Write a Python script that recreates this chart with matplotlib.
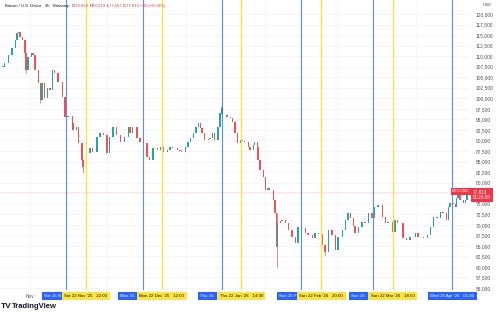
import numpy as np
import pandas as pd
import matplotlib
matplotlib.use("Agg")
import matplotlib.pyplot as plt
import matplotlib.dates as mdates
import matplotlib.transforms as mtransforms
from matplotlib.patches import Rectangle

plt.rcParams['font.family'] = ['Liberation Sans', 'DejaVu Sans']

# Cierres (BTC/USD, velas de 3h, una lectura cada ~1 dia)
fechas = [
    '2025-10-21 12:00', '2025-10-22 00:00', '2025-10-23 12:00', '2025-10-25 00:00', '2025-10-26 06:00',
    '2025-10-27 00:00', '2025-10-27 12:00', '2025-10-28 03:00', '2025-10-29 00:00', '2025-10-30 03:00',
    '2025-10-30 12:00', '2025-10-31 06:00', '2025-11-01 18:00', '2025-11-02 06:00', '2025-11-03 00:00',
    '2025-11-04 06:00', '2025-11-05 00:00', '2025-11-05 18:00', '2025-11-06 21:00', '2025-11-07 18:00',
    '2025-11-08 21:00', '2025-11-10 00:00', '2025-11-10 18:00', '2025-11-12 00:00', '2025-11-13 15:00',
    '2025-11-14 18:00', '2025-11-15 21:00', '2025-11-17 12:00', '2025-11-17 21:00', '2025-11-19 09:00',
    '2025-11-19 21:00', '2025-11-21 09:00', '2025-11-21 18:00', '2025-11-23 06:00', '2025-11-24 12:00',
    '2025-11-25 15:00', '2025-11-27 06:00', '2025-11-28 09:00', '2025-11-29 15:00', '2025-12-01 03:00',
    '2025-12-02 06:00', '2025-12-03 12:00', '2025-12-05 00:00', '2025-12-06 06:00', '2025-12-08 03:00',
    '2025-12-09 09:00', '2025-12-10 03:00', '2025-12-11 06:00', '2025-12-12 21:00', '2025-12-14 00:00',
    '2025-12-15 06:00', '2025-12-16 18:00', '2025-12-17 21:00', '2025-12-19 03:00', '2025-12-20 18:00',
    '2025-12-21 21:00', '2025-12-23 00:00', '2025-12-24 15:00', '2025-12-25 18:00', '2025-12-26 21:00',
    '2025-12-28 12:00', '2025-12-29 15:00', '2025-12-30 09:00', '2025-12-31 15:00', '2026-01-01 18:00',
    '2026-01-02 15:00', '2026-01-03 18:00', '2026-01-04 21:00', '2026-01-05 18:00', '2026-01-06 12:00',
    '2026-01-07 06:00', '2026-01-08 09:00', '2026-01-09 15:00', '2026-01-10 09:00', '2026-01-11 12:00',
    '2026-01-12 06:00', '2026-01-13 12:00', '2026-01-14 06:00', '2026-01-14 18:00', '2026-01-15 09:00',
    '2026-01-17 00:00', '2026-01-18 06:00', '2026-01-19 00:00', '2026-01-20 03:00', '2026-01-21 06:00',
    '2026-01-22 03:00', '2026-01-22 21:00', '2026-01-24 00:00', '2026-01-25 06:00', '2026-01-26 00:00',
    '2026-01-27 06:00', '2026-01-27 21:00', '2026-01-28 18:00', '2026-01-29 03:00', '2026-01-29 21:00',
    '2026-01-31 03:00', '2026-01-31 21:00', '2026-02-02 00:00', '2026-02-02 18:00', '2026-02-04 00:00',
    '2026-02-04 18:00', '2026-02-05 12:00', '2026-02-05 21:00', '2026-02-06 18:00', '2026-02-07 12:00',
    '2026-02-08 18:00', '2026-02-09 21:00', '2026-02-11 09:00', '2026-02-12 15:00', '2026-02-13 18:00',
    '2026-02-15 06:00', '2026-02-16 12:00', '2026-02-17 15:00', '2026-02-19 06:00', '2026-02-20 09:00',
    '2026-02-21 15:00', '2026-02-23 03:00', '2026-02-24 06:00', '2026-02-25 12:00', '2026-02-27 00:00',
    '2026-02-28 06:00', '2026-03-01 09:00', '2026-03-03 00:00', '2026-03-04 03:00', '2026-03-05 06:00',
    '2026-03-06 03:00', '2026-03-07 06:00', '2026-03-08 00:00', '2026-03-09 06:00', '2026-03-10 18:00',
    '2026-03-11 21:00', '2026-03-13 03:00', '2026-03-14 15:00', '2026-03-15 18:00', '2026-03-17 00:00',
    '2026-03-18 15:00', '2026-03-19 18:00', '2026-03-20 21:00', '2026-03-22 12:00', '2026-03-23 15:00',
    '2026-03-24 18:00', '2026-03-26 18:00', '2026-03-28 06:00', '2026-03-29 12:00', '2026-03-31 12:00',
    '2026-04-01 15:00', '2026-04-03 15:00', '2026-04-05 06:00', '2026-04-06 09:00', '2026-04-07 12:00',
    '2026-04-09 00:00', '2026-04-10 06:00', '2026-04-11 09:00', '2026-04-12 15:00', '2026-04-13 09:00',
    '2026-04-14 03:00', '2026-04-15 06:00', '2026-04-16 03:00', '2026-04-16 18:00', '2026-04-17 06:00',
    '2026-04-18 00:00', '2026-04-19 06:00', '2026-04-20 00:00', '2026-04-20 18:00',
]
cierres = [
    107430, 108380, 110280, 111940, 113830,
    115490, 115730, 114540, 113830, 110750,
    106720, 109800, 110750, 110280, 106720,
    103630, 99600, 103630, 100080, 102450,
    101970, 106720, 106000, 103870, 100310,
    95570, 95800, 94150, 92480, 93200,
    89400, 85370, 83710, 87030, 88210,
    87270, 90820, 91770, 91300, 87030,
    90820, 93200, 91300, 89640, 90820,
    93200, 91770, 93200, 90590, 89640,
    89400, 86080, 85370, 88210, 87740,
    88450, 87270, 87740, 88450, 88210,
    87740, 87500, 87270, 88450, 89640,
    90590, 91770, 93200, 94150, 92960,
    91770, 90110, 90350, 90590, 91770,
    90110, 93200, 96520, 97700, 96040,
    95570, 95330, 94380, 91770, 89400,
    90110, 89880, 89640, 88450, 87740,
    88930, 89640, 88450, 85370, 83000,
    81340, 78250, 78730, 78250, 75880,
    72800, 64730, 70430, 70900, 71140,
    70430, 68760, 67100, 65680, 69480,
    69200, 68050, 67580, 66870, 68050,
    67900, 65210, 63550, 68760, 67580,
    64020, 67100, 68760, 71140, 72800,
    71610, 69710, 68050, 69480, 70660,
    70430, 72800, 71610, 74220, 74700,
    71850, 70430, 70700, 68290, 71140,
    70430, 66870, 66390, 67100, 68050,
    67100, 66870, 67580, 69480, 71850,
    71500, 73030, 72800, 71140, 74220,
    75170, 74900, 74220, 76360, 77540,
    75880, 75170, 75880, 77813,
]

# mechas largas que se ven en el grafico
fechas_mecha = ['2025-10-30 12:00', '2025-11-05 00:00', '2025-11-21 18:00', '2026-01-14 18:00', '2026-02-05 12:00', '2026-02-24 06:00']
mechas_min = [105900, 98900, 82300, 96300, 59990, 62800]
mechas_max = [110750, 103630, 85400, 98200, 72800, 65210]

lineas_azules = ['2025-11-15 01:00', '2025-12-15 01:00', '2026-01-15 01:00', '2026-02-15 01:00', '2026-03-15 01:00', '2026-04-15 01:00']
etiquetas_azules = ["Sat 15 Nov '25   01:00", "Mon 15 Dec '25   01:00", "Thu 15 Jan '26   01:00",
                    "Sun 15 Feb '26   01:00", "Sun 15 Mar '26   01:00", "Wed 15 Apr '26   01:00"]
lineas_amarillas = ['2025-11-22 22:00', '2025-12-22 12:00', '2026-01-22 14:00', '2026-02-22 20:00', '2026-03-22 18:00']
etiquetas_amarillas = ["Sat 22 Nov '25   22:00", "Mon 22 Dec '25   12:00", "Thu 22 Jan '26   14:00",
                       "Sun 22 Feb '26   20:00", "Sun 22 Mar '26   18:00"]

meses = ['2025-11-01', '2025-12-01', '2026-01-01', '2026-02-01', '2026-03-01', '2026-04-01']
# solo "Nov" queda a la vista, las demas las tapan las etiquetas de fecha
etiquetas_meses = ['Nov', '', '', '', '', '']
ticks_precio = list(range(55000, 120001, 2500))

ULTIMO = 77813
ENCABEZADO = [('Bitcoin / U.S. Dollar · 3h · Bitstamp  ', '#131722'),
              ('O', '#131722'), ('78,019 ', '#f23645'),
              ('H', '#131722'), ('78,219 ', '#f23645'),
              ('L', '#131722'), ('77,567 ', '#f23645'),
              ('C', '#131722'), ('77,813 ', '#f23645'),
              ('−35 (−0.04%)', '#f23645')]

VERDE = '#26a69a'
ROJO = '#ef5350'
AZUL = '#2962ff'
AMARILLO = '#fbe343'
GRIS = '#50535e'

W, H = 500, 312
fig = plt.figure(figsize=(W / 100, H / 100), dpi=100)
fig.patch.set_facecolor('white')
ax = fig.add_axes([0, 1 - 290 / H, 470 / W, 290 / H])

x = mdates.date2num(pd.to_datetime(fechas))
c = np.array(cierres, dtype=float)
o = np.r_[c[0], c[:-1]]
colores = np.where(c >= o, VERDE, ROJO)

# mechas
xm = mdates.date2num(pd.to_datetime(fechas_mecha))
for xi, lo, hi in zip(xm, mechas_min, mechas_max):
    k = np.argmin(np.abs(x - xi))
    ax.vlines(x[k], lo, hi, color=colores[k], lw=0.5, zorder=2)

# cuerpos
base = np.minimum(o, c)
alto = np.maximum(np.abs(c - o), 150)
ax.bar(x, alto, bottom=base, width=0.45, color=colores, lw=0, zorder=3)

# lineas verticales de fechas
for f in lineas_azules:
    ax.axvline(mdates.date2num(pd.Timestamp(f)), color=AZUL, alpha=0.75, lw=0.8, zorder=4)
for f in lineas_amarillas:
    ax.axvline(mdates.date2num(pd.Timestamp(f)), color=AMARILLO, lw=1.0, zorder=4)

# precio actual
ax.axhline(ULTIMO, color=ROJO, alpha=0.35, lw=0.6, ls=(0, (1, 1)), zorder=1)

ax.set_xlim(pd.Timestamp('2025-10-20 08:00'), pd.Timestamp('2026-04-21 22:00'))
ax.set_ylim(54533, 123320)

for s in ax.spines.values():
    s.set_visible(False)
ax.yaxis.tick_right()
ax.set_yticks(ticks_precio)
# 77,500 queda bajo la etiqueta del precio actual
ax.set_yticklabels(['' if t == 77500 else f'{t:,}' for t in ticks_precio])
ax.tick_params(axis='y', length=0, pad=4.3, labelsize=3.5, labelcolor=GRIS)
ax.set_xticks(mdates.date2num(pd.to_datetime(meses)))
ax.set_xticklabels(etiquetas_meses)
ax.tick_params(axis='x', length=0, pad=3.2, labelsize=3.4, labelcolor=GRIS)
ax.grid(color='#f0f3fa', lw=0.5, zorder=0)
ax.set_axisbelow(True)

renderer = fig.canvas.get_renderer()

# etiquetas del eje de tiempo: amarillas encima, las azules se ven solo hasta donde empieza la amarilla
FS_EJE = 3.2
PAD = 0.55 * FS_EJE * 100 / 72  # relleno de la caja en pixeles
trans = mtransforms.blended_transform_factory(ax.transData, fig.transFigure)
y_eje = 1 - 296 / H
amarillas = []
for f, t in zip(lineas_amarillas, etiquetas_amarillas):
    ta = ax.text(mdates.date2num(pd.Timestamp(f)), y_eje, t, transform=trans, ha='center', va='center',
                 fontsize=FS_EJE, color='#131722', clip_on=False, zorder=7,
                 bbox=dict(boxstyle='square,pad=0.55', fc=AMARILLO, ec='none'))
    amarillas.append(ta)
fig.canvas.draw()
cajas = [ta.get_bbox_patch().get_window_extent(renderer) for ta in amarillas]
y0, y1 = cajas[0].y0, cajas[0].y1

for i, (f, t) in enumerate(zip(lineas_azules, etiquetas_azules)):
    xl = ax.transData.transform((mdates.date2num(pd.Timestamp(f)), 0))[0]
    tb = fig.text(0, y_eje, t, ha='left', va='center', fontsize=FS_EJE, color='white', zorder=6)
    ancho = tb.get_window_extent(renderer).width + 2 * PAD
    izq = xl - ancho / 2
    der = xl + ancho / 2
    if i < len(cajas):
        der = min(der, cajas[i].x0)
        n = len(t)
        while n > 1 and izq + PAD + tb.get_window_extent(renderer).width > der:
            n -= 1
            tb.set_text(t[:n].rstrip())
    tb.set_x((izq + PAD) / W)
    fig.patches.append(Rectangle((izq / W, y0 / H), (der - izq) / W, (y1 - y0) / H,
                                 transform=fig.transFigure, fc=AZUL, ec='none', zorder=5))

# etiquetas de precio actual
trans_y = mtransforms.blended_transform_factory(ax.transAxes, ax.transData)
trans_y_up = mtransforms.offset_copy(trans_y, fig=fig, y=2.5, units='dots')
ax.text(1.006, ULTIMO, '77,813\n01:26:08', transform=trans_y_up, ha='left', va='top', fontsize=3.3,
        color='white', clip_on=False, zorder=8, linespacing=1.1,
        bbox=dict(boxstyle='square,pad=0.4', fc='#f23645', ec='none'))
ax.text(0.999, ULTIMO, 'BTCUSD', transform=trans_y_up, ha='right', va='top', fontsize=3.0,
        color='white', clip_on=False, zorder=8,
        bbox=dict(boxstyle='square,pad=0.35', fc='#f23645', ec='none'))
fig.text(483 / W, 1 - 5 / H, 'USD', ha='left', va='center', fontsize=3.2, color=GRIS)

# encabezado
px = 5
for txt, col in ENCABEZADO:
    t = fig.text(px / W, 1 - 6 / H, txt, ha='left', va='center', fontsize=3.1, color=col, zorder=9)
    px += t.get_window_extent(renderer).width

# logo
fig.text(1 / W, 1 - 307 / H, 'TV', ha='left', va='center', fontsize=6, fontweight='bold', color='#131722')
fig.text(12 / W, 1 - 307 / H, 'TradingView', ha='left', va='center', fontsize=5.5, fontweight='bold', color='#131722')

fig.savefig('out.png', dpi=100)
